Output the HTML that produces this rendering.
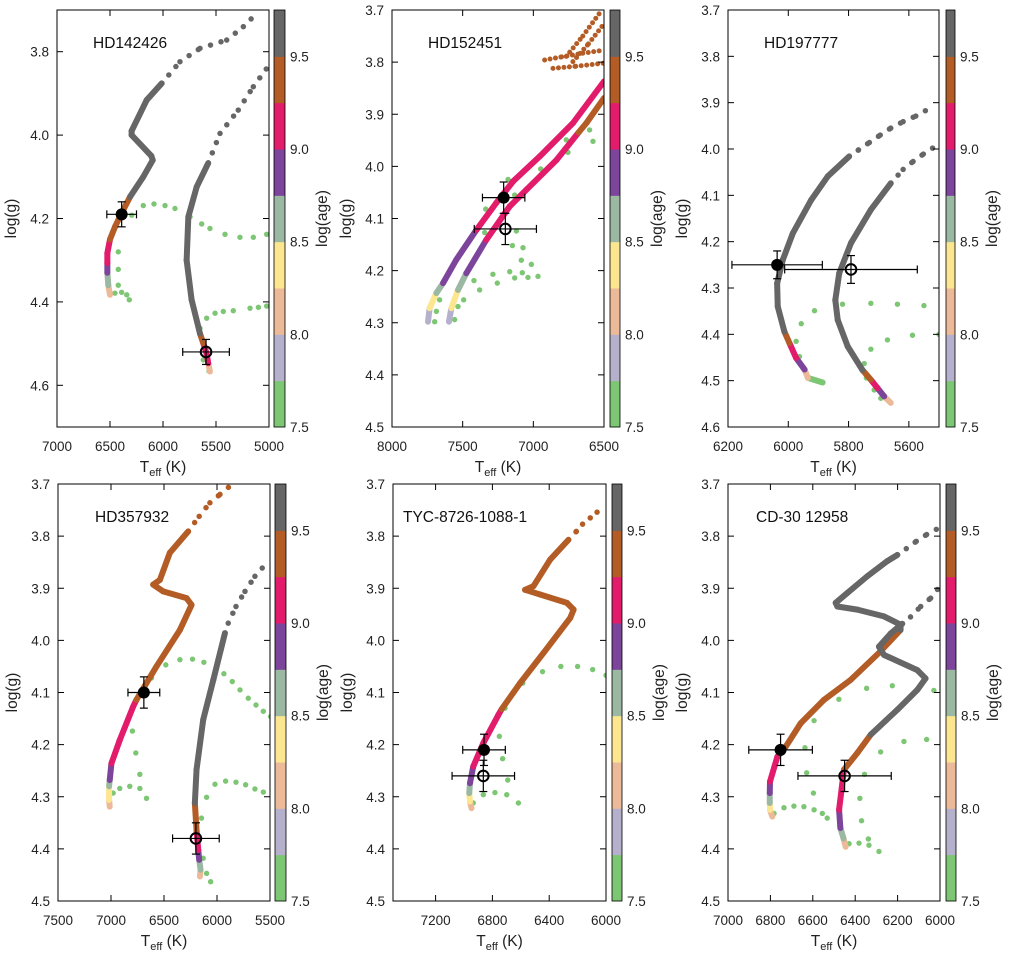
<!DOCTYPE html>
<html><head><meta charset="utf-8"><style>
html,body{margin:0;padding:0;background:#fff;}
svg{display:block;font-family:"Liberation Sans",sans-serif;}
</style></head><body>
<svg id="fig" width="1011" height="960" viewBox="0 0 1011 960" xmlns="http://www.w3.org/2000/svg"></svg>
<script>
// ---------- colour scale ----------
const ageBandEdges = [7.5,7.75,8.0,8.25,8.5,8.75,9.0,9.25,9.5,9.75];
const ageBandColors = ['#7dc674','#b5b1cc','#ecba98','#fde690','#9bb8a2','#7c449b','#e21b6b','#b45c25','#666666'];
const cbTicks = [7.5,8.0,8.5,9.0,9.5];

// ---------- panel 1: HD142426 ----------
const p1TrackA = [[6500,4.383,8.0],[6516,4.36,8.6],[6525,4.33,8.9],[6525,4.307,9.1],[6525,4.283,9.2],[6500,4.25,9.35],[6453,4.22,9.4],[6390,4.187,9.45],[6311,4.148,9.55],[6186,4.10,9.6],[6097,4.06,9.6],[6110,4.05,9.6],[6296,4.0,9.6],[6296,3.99,9.6],[6154,3.916,9.6],[6012,3.876,9.6],[5840,3.824,9.6],[5651,3.792,9.6],[5399,3.772,9.6],[5242,3.74,9.6],[5132,3.712,9.6]];
const p1TrackADense = 16;
const p1TrackB = [[5557,4.567,8.0],[5573,4.547,9.0],[5590,4.523,9.2],[5620,4.499,9.4],[5651,4.476,9.6],[5730,4.395,9.6],[5777,4.30,9.6],[5761,4.196,9.6],[5682,4.124,9.6],[5573,4.067,9.6],[5462,3.996,9.6],[5290,3.94,9.6],[5148,3.884,9.6],[5022,3.84,9.6]];
const p1TrackBDense = 10;
const p1PreMS = [[6422,4.28],[6422,4.322],[6422,4.36],[6453,4.379],[6390,4.377],[6342,4.383],[6318,4.395],[6295,4.192],[6186,4.169],[6085,4.165],[5981,4.169],[5887,4.176],[5745,4.196],[5635,4.213],[5557,4.224],[5415,4.238],[5274,4.245],[5148,4.245],[5022,4.238],[5651,4.463],[5588,4.439],[5509,4.427],[5431,4.423],[5337,4.421],[5179,4.415],[5100,4.413],[5022,4.41],[5620,4.539],[5566,4.566]];
const p1Stars = [[6390,4.19,140,0.03,1],[5594,4.52,220,0.03,0]];

// ---------- panel 2: HD152451 ----------
const p2TrackA = [[7745,4.298,7.9],[7734,4.272,8.3],[7686,4.243,8.6],[7639,4.224,8.85],[7545,4.179,8.9],[7403,4.122,9.1],[7262,4.07,9.1],[7144,4.029,9.1],[6955,3.981,9.1],[6720,3.917,9.1],[6500,3.837,9.1]];
const p2TrackADense = 11;
const p2TrackB = [[7597,4.298,7.9],[7580,4.272,8.3],[7533,4.237,8.6],[7474,4.205,8.9],[7333,4.141,9.1],[7168,4.077,9.1],[7050,4.045,9.1],[6837,3.988,9.1],[6680,3.935,9.4],[6625,3.917,9.4],[6500,3.869,9.4]];
const p2TrackBDense = 11;
const p2GiantA = [[6920,3.796,9.4],[6800,3.790,9.4],[6650,3.783,9.4],[6500,3.777,9.4]];
const p2GiantB = [[6861,3.812,9.4],[6700,3.808,9.4],[6500,3.802,9.4]];
const p2GiantC = [[6767,3.789,9.4],[6650,3.750,9.4],[6531,3.706,9.4]];
const p2GiantD = [[6720,3.799,9.4],[6610,3.765,9.4],[6507,3.729,9.4]];
const p2PreMS = [[7179,4.025],[7132,4.055],[7337,4.082],[7344,4.127],[7120,4.124],[7148,4.152],[7073,4.156],[7085,4.18],[7014,4.188],[7167,4.202],[7132,4.214],[7078,4.204],[7038,4.213],[6967,4.211],[7420,4.219],[7286,4.207],[7255,4.224],[7380,4.237],[7493,4.256],[7533,4.269],[7663,4.256],[7686,4.278],[7557,4.294],[7698,4.298],[6948,4.005],[6755,3.973],[6767,3.949],[6602,3.93],[6578,3.952]];
const p2Stars = [[7210,4.06,150,0.03,1],[7198,4.12,220,0.03,0]];

// ---------- panel 3: HD197777 ----------
const p3TrackA = [[5886,4.504,7.6],[5935,4.494,8.0],[5946,4.476,8.9],[5974,4.451,9.1],[5996,4.419,9.4],[6013,4.394,9.6],[6035,4.34,9.6],[6037,4.29,9.6],[6018,4.239,9.6],[5985,4.182,9.6],[5924,4.11,9.6],[5869,4.059,9.6],[5798,4.016,9.6],[5767,4.002,9.6],[5731,3.986,9.6],[5695,3.97,9.6],[5660,3.955,9.6],[5619,3.941,9.6],[5577,3.929,9.6],[5536,3.914,9.6]];
const p3TrackADense = 13;
const p3TrackB = [[5660,4.548,8.0],[5682,4.534,8.9],[5704,4.516,9.1],[5726,4.498,9.4],[5754,4.477,9.6],[5803,4.426,9.6],[5836,4.369,9.6],[5844,4.326,9.6],[5831,4.268,9.6],[5792,4.203,9.6],[5726,4.131,9.6],[5660,4.074,9.6],[5619,4.044,9.6],[5586,4.027,9.6],[5552,4.011,9.6],[5514,3.995,9.6]];
const p3TrackBDense = 12;
const p3PreMS = [[5913,4.349],[5957,4.377],[5974,4.415],[5963,4.448],[5820,4.335],[5726,4.333],[5638,4.335],[5550,4.338],[5500,4.4],[5588,4.402],[5671,4.412],[5726,4.432],[5748,4.463],[5741,4.494],[5715,4.52],[5693,4.538],[5886,4.504]];
const p3Stars = [[6037,4.25,150,0.03,1],[5792,4.26,220,0.03,0]];

// ---------- panel 4: HD357932 ----------
const p4TrackA = [[7012,4.319,8.0],[7018,4.306,8.3],[7018,4.28,8.6],[7012,4.268,8.9],[6996,4.236,9.1],[6917,4.191,9.1],[6791,4.127,9.1],[6760,4.114,9.4],[6571,4.05,9.4],[6350,3.98,9.4],[6240,3.932,9.4],[6287,3.919,9.4],[6508,3.906,9.4],[6602,3.893,9.4],[6539,3.884,9.4],[6445,3.832,9.4],[6272,3.791,9.4],[6168,3.762,9.4],[6067,3.736,9.4],[5972,3.72,9.4],[5878,3.704,9.4]];
const p4TrackADense = 17;
const p4TrackB = [[6161,4.453,8.1],[6155,4.44,8.6],[6168,4.421,8.9],[6177,4.402,9.1],[6193,4.364,9.3],[6209,4.312,9.6],[6193,4.248,9.6],[6130,4.152,9.6],[6035,4.076,9.6],[5925,3.986,9.6],[5894,3.967,9.6],[5821,3.935,9.6],[5736,3.906,9.6],[5642,3.877,9.6],[5516,3.848,9.6]];
const p4TrackBDense = 10;
const p4PreMS = [[6798,4.174],[6766,4.216],[6728,4.257],[6980,4.293],[6917,4.284],[6823,4.28],[6728,4.284],[6665,4.303],[6618,4.072],[6483,4.047],[6350,4.037],[6231,4.036],[6124,4.042],[5935,4.064],[5856,4.079],[5783,4.095],[5705,4.111],[5632,4.124],[5563,4.136],[5494,4.146],[6146,4.341],[6098,4.301],[6019,4.276],[5919,4.27],[5821,4.272],[5730,4.277],[5642,4.285],[5563,4.291],[6130,4.418],[6098,4.447],[6060,4.463]];
const p4Stars = [[6690,4.10,150,0.03,1],[6199,4.38,220,0.03,0]];

// ---------- panel 5: TYC-8726-1088-1 ----------
const p5TrackA = [[6947,4.322,8.0],[6958,4.309,8.3],[6963,4.293,8.6],[6958,4.274,8.9],[6935,4.242,9.1],[6864,4.197,9.1],[6758,4.143,9.1],[6735,4.132,9.4],[6605,4.082,9.4],[6440,4.024,9.4],[6252,3.957,9.4],[6228,3.941,9.4],[6275,3.928,9.4],[6464,3.912,9.4],[6570,3.903,9.4],[6511,3.896,9.4],[6393,3.845,9.4],[6264,3.807,9.4],[6209,3.791,9.4],[6165,3.777,9.4],[6111,3.765,9.4],[6063,3.754,9.4],[6016,3.743,9.4]];
const p5TrackADense = 18;
const p5PreMS = [[6586,4.082],[6447,4.06],[6318,4.05],[6200,4.05],[6094,4.056],[6000,4.067],[6711,4.13],[6751,4.184],[6728,4.227],[6692,4.268],[6935,4.312],[6864,4.296],[6782,4.292],[6699,4.296],[6617,4.312]];
const p5Stars = [[6859,4.21,150,0.03,1],[6864,4.26,220,0.03,0]];

// ---------- panel 6: CD-30 12958 ----------
const p6TrackA = [[6791,4.338,8.0],[6802,4.325,8.3],[6803,4.312,8.6],[6803,4.293,8.9],[6802,4.271,9.1],[6767,4.223,9.1],[6728,4.204,9.4],[6657,4.159,9.4],[6547,4.114,9.4],[6422,4.076,9.4],[6288,4.024,9.4],[6186,3.98,9.6],[6186,3.97,9.6],[6264,3.954,9.6],[6390,3.941,9.6],[6484,3.935,9.6],[6492,3.928,9.6],[6437,3.909,9.6],[6343,3.877,9.6],[6249,3.848,9.6],[6201,3.836,9.6],[6159,3.824,9.6],[6112,3.81,9.6],[6063,3.797,9.6],[6013,3.786,9.6]];
const p6TrackADense = 21;
const p6TrackB = [[6445,4.396,8.0],[6455,4.38,8.6],[6470,4.36,8.9],[6476,4.325,9.1],[6453,4.248,9.4],[6390,4.216,9.4],[6327,4.181,9.6],[6201,4.133,9.6],[6107,4.095,9.6],[6068,4.073,9.6],[6107,4.057,9.6],[6264,4.028,9.6],[6288,4.012,9.6],[6233,3.987,9.6],[6178,3.968,9.6],[6139,3.955,9.6],[6091,3.935,9.6],[6044,3.919,9.6],[6000,3.896,9.6]];
const p6TrackBDense = 15;
const p6PreMS = [[6029,4.096],[6225,4.087],[6346,4.092],[6477,4.113],[6594,4.154],[6637,4.206],[6629,4.254],[6597,4.293],[6063,4.19],[6170,4.194],[6280,4.214],[6356,4.257],[6378,4.303],[6370,4.346],[6338,4.381],[6783,4.332],[6736,4.321],[6689,4.318],[6642,4.319],[6594,4.325],[6555,4.332],[6532,4.341],[6429,4.39],[6382,4.389],[6335,4.393],[6288,4.405]];
const p6Stars = [[6752,4.21,150,0.03,1],[6450,4.26,220,0.03,0]];

// ---------- axis tick labels ----------
const p1XTicks=[7000,6500,6000,5500,5000], p1YTicks=['3.8','4.0','4.2','4.4','4.6'];
const p2XTicks=[8000,7500,7000,6500], p2YTicks=['3.7','3.8','3.9','4.0','4.1','4.2','4.3','4.4','4.5'];
const p3XTicks=[6200,6000,5800,5600], p3YTicks=['3.7','3.8','3.9','4.0','4.1','4.2','4.3','4.4','4.5','4.6'];
const p4XTicks=[7500,7000,6500,6000,5500], p4YTicks=p2YTicks;
const p5XTicks=[7200,6800,6400,6000], p5YTicks=p2YTicks;
const p6XTicks=[7000,6800,6600,6400,6200,6000], p6YTicks=p2YTicks;

const NS='http://www.w3.org/2000/svg';
const svg=document.getElementById('fig');
function mk(tag,attrs,parent){const e=document.createElementNS(NS,tag);for(const k in attrs)e.setAttribute(k,attrs[k]);(parent||svg).appendChild(e);return e;}
function ageColor(a){for(let i=0;i<ageBandColors.length;i++){if(a<ageBandEdges[i+1])return ageBandColors[i];}return ageBandColors[ageBandColors.length-1];}

function panel(cfg){
  const g=mk('g',{});
  
  
  const {L,R,T,B,x0,x1,y0,y1}=cfg;
  const sx=v=>L+(v-x0)/(x1-x0)*(R-L);
  const sy=v=>T+(v-y0)/(y1-y0)*(B-T);
  const clip='clip-'+cfg.name;
  const cp=mk('clipPath',{id:clip},g);mk('rect',{x:L,y:T,width:R-L,height:B-T},cp);
  const plot=mk('g',{'clip-path':'url(#'+clip+')'},g);
  
  
  cfg.pre.forEach(p=>{const c=mk('circle',{cx:sx(p[0]),cy:sy(p[1]),r:2.7,fill:ageBandColors[0]},plot);
    
    });
  cfg.tracks.forEach(tr=>{
    const pts=tr.pts, dn=tr.dense;
    const tg=mk('g',{},plot);
    
    
    for(let i=0;i<pts.length-1;i++){
      const dense=i<dn-1;
      const l=mk('line',{x1:sx(pts[i][0]),y1:sy(pts[i][1]),x2:sx(pts[i+1][0]),y2:sy(pts[i+1][1]),stroke:ageColor(pts[i][2]),'stroke-width':dense?(tr.w||6):5.5,'stroke-linecap':'round'},tg);
      if(!dense)l.setAttribute('stroke-dasharray','0 11');
      if(tr.w)l.setAttribute('stroke-dasharray','0 5.5');
      
      
    }
  });
  cfg.stars.forEach(s=>{
    const x=sx(s[0]),y=sy(s[1]),xa=sx(s[0]-s[2]),xb=sx(s[0]+s[2]),ya=sy(s[1]-s[3]),yb=sy(s[1]+s[3]);
    const sg=mk('g',{stroke:'#000','stroke-width':1.2},plot);
    
    
    mk('line',{x1:xa,y1:y,x2:xb,y2:y},sg);mk('line',{x1:x,y1:ya,x2:x,y2:yb},sg);
    mk('line',{x1:xa,y1:y-4,x2:xa,y2:y+4},sg);mk('line',{x1:xb,y1:y-4,x2:xb,y2:y+4},sg);
    mk('line',{x1:x-4,y1:ya,x2:x+4,y2:ya},sg);mk('line',{x1:x-4,y1:yb,x2:x+4,y2:yb},sg);
    if(s[4])mk('circle',{cx:x,cy:y,r:6,fill:'#000',stroke:'none'},sg);
    else mk('circle',{cx:x,cy:y,r:5.3,fill:'none','stroke-width':2},sg);
  });
  const fr=mk('rect',{x:L,y:T,width:R-L,height:B-T,fill:'none',stroke:'#000','stroke-width':1},g);
  
  
  cfg.xt.forEach(v=>{const x=sx(v);
    mk('line',{x1:x,y1:B,x2:x,y2:B-6,stroke:'#000'},g);mk('line',{x1:x,y1:T,x2:x,y2:T+6,stroke:'#000'},g);
    const t=mk('text',{x:x,y:B+24,'font-size':13.5,'text-anchor':'middle',fill:'#222'},g);t.textContent=v;
    
    });
  cfg.yt.forEach(v=>{const y=sy(parseFloat(v));
    mk('line',{x1:L,y1:y,x2:L+6,y2:y,stroke:'#000'},g);mk('line',{x1:R,y1:y,x2:R-6,y2:y,stroke:'#000'},g);
    const t=mk('text',{x:L-8,y:y+5,'font-size':13.5,'text-anchor':'end',fill:'#222'},g);t.textContent=v;
    
    });
  const xt=mk('text',{x:(L+R)/2,y:B+45,'font-size':15.5,'text-anchor':'middle',fill:'#222'},g);
  xt.innerHTML='T<tspan font-size="11" dy="4">eff</tspan><tspan dy="-4"> (K)</tspan>';
  
  
  const yt=mk('text',{x:0,y:0,'font-size':15.5,'text-anchor':'middle',fill:'#222',transform:`translate(${L-41},${(T+B)/2}) rotate(-90)`},g);
  yt.textContent='log(g)';
  
  
  const ti=mk('text',{x:L+cfg.tx,y:T+38,'font-size':15.5,fill:'#111'},g);ti.textContent=cfg.title;
  
  
  const cg=mk('g',{},g);
  
  
  const cy=v=>B-(v-7.5)/(9.75-7.5)*(B-T);
  ageBandColors.forEach((c,i)=>{mk('rect',{x:cfg.cL,y:cy(ageBandEdges[i+1]),width:cfg.cR-cfg.cL,height:cy(ageBandEdges[i])-cy(ageBandEdges[i+1])+0.5,fill:c},cg);});
  mk('rect',{x:cfg.cL,y:T,width:cfg.cR-cfg.cL,height:B-T,fill:'none',stroke:'#000','stroke-width':0.8},cg);
  cbTicks.forEach(v=>{const y=cy(v);
    const t=mk('text',{x:cfg.cR+5,y:y+5,'font-size':13.5,fill:'#222'},cg);t.textContent=v.toFixed(1);
    
    });
  const cl=mk('text',{x:0,y:0,'font-size':15.5,'text-anchor':'middle',fill:'#222',transform:`translate(${cfg.cR+42},${(T+B)/2}) rotate(-90)`},cg);
  cl.textContent='log(age)';
  
  
}

panel({name:'hd142426',title:'HD142426',tx:36,L:57,R:269,T:10,B:427,x0:7000,x1:5000,y0:3.7,y1:4.7,cL:274,cR:285,xt:p1XTicks,yt:p1YTicks,pre:p1PreMS,stars:p1Stars,tracks:[{pts:p1TrackA,dense:p1TrackADense},{pts:p1TrackB,dense:p1TrackBDense}]});
panel({name:'hd152451',title:'HD152451',tx:36,L:392,R:604,T:10,B:427,x0:8000,x1:6500,y0:3.7,y1:4.5,cL:610,cR:620,xt:p2XTicks,yt:p2YTicks,pre:p2PreMS,stars:p2Stars,tracks:[{pts:p2TrackA,dense:p2TrackADense},{pts:p2TrackB,dense:p2TrackBDense},{pts:p2GiantA,dense:4,w:5},{pts:p2GiantB,dense:3,w:5},{pts:p2GiantC,dense:3,w:5},{pts:p2GiantD,dense:3,w:5}]});
panel({name:'hd197777',title:'HD197777',tx:36,L:728,R:939,T:10,B:427,x0:6200,x1:5500,y0:3.7,y1:4.6,cL:946,cR:955,xt:p3XTicks,yt:p3YTicks,pre:p3PreMS,stars:p3Stars,tracks:[{pts:p3TrackA,dense:p3TrackADense},{pts:p3TrackB,dense:p3TrackBDense}]});
panel({name:'hd357932',title:'HD357932',tx:37,L:58,R:270,T:484,B:901,x0:7500,x1:5500,y0:3.7,y1:4.5,cL:275,cR:286,xt:p4XTicks,yt:p4YTicks,pre:p4PreMS,stars:p4Stars,tracks:[{pts:p4TrackA,dense:p4TrackADense},{pts:p4TrackB,dense:p4TrackBDense}]});
panel({name:'tyc-8726-1088-1',title:'TYC-8726-1088-1',tx:10,L:393,R:606,T:484,B:901,x0:7500,x1:6000,y0:3.7,y1:4.5,cL:612,cR:622,xt:p5XTicks,yt:p5YTicks,pre:p5PreMS,stars:p5Stars,tracks:[{pts:p5TrackA,dense:p5TrackADense}]});
panel({name:'cd-30-12958',title:'CD-30 12958',tx:28,L:728,R:940,T:484,B:901,x0:7000,x1:6000,y0:3.7,y1:4.5,cL:946,cR:956,xt:p6XTicks,yt:p6YTicks,pre:p6PreMS,stars:p6Stars,tracks:[{pts:p6TrackA,dense:p6TrackADense},{pts:p6TrackB,dense:p6TrackBDense}]});
</script>
</body></html>
